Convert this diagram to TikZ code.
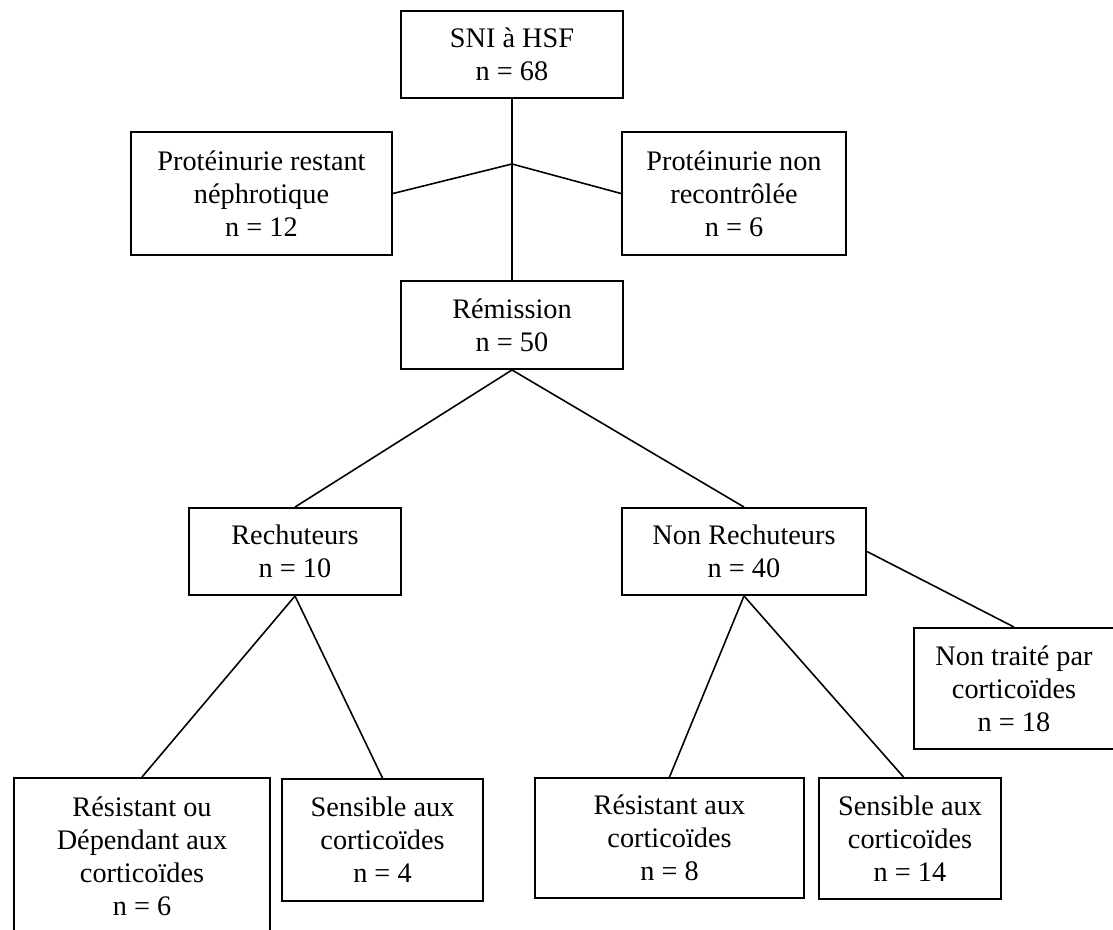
\documentclass[tikz,border=0pt]{standalone}
\usepackage{fontspec}
\setmainfont{Liberation Serif}

\begin{document}
\begin{tikzpicture}[x=0.02cm, y=-0.02cm,
    boite/.style={draw, line width=1.1pt, inner sep=0pt, align=center,
        font=\fontsize{16.1}{18.8}\selectfont},
    taille/.style 2 args={minimum width=#1*0.02cm, minimum height=#2*0.02cm},
    lien/.style={line width=0.9pt}]
    \useasboundingbox (0,0) rectangle (1113,930);
    \node[boite, taille={222}{87}] (sni) at (512,54.5) {SNI à HSF\\n = 68};
    \node[boite, taille={261}{123}] (protnephro) at (261.5,193.5) {Protéinurie restant\\néphrotique\\n = 12};
    \node[boite, taille={224}{123}] (protnonctrl) at (734,193.5) {Protéinurie non\\recontrôlée\\n = 6};
    \node[boite, taille={222}{88}] (remission) at (512,325) {Rémission\\n = 50};
    \node[boite, taille={212}{87}] (rechut) at (295,551.5) {Rechuteurs\\n = 10};
    \node[boite, taille={244}{87}] (nonrechut) at (744,551.5) {Non Rechuteurs\\n = 40};
    \node[boite, taille={200}{121}] (nontraite) at (1014,688.5) {Non traité par\\corticoïdes\\n = 18};
    \node[boite, taille={256}{156}] (resdep) at (142,856) {Résistant ou\\Dépendant aux\\corticoïdes\\n = 6};
    \node[boite, taille={201}{122}] (sensA) at (382.5,840) {Sensible aux\\corticoïdes\\n = 4};
    \node[boite, taille={269}{120}] (resist) at (669.5,838) {Résistant aux\\corticoïdes\\n = 8};
    \node[boite, taille={182}{121}] (sensB) at (910,838.5) {Sensible aux\\corticoïdes\\n = 14};

    % branches
    \coordinate (split) at (512,164);
    \draw[lien] (sni) -- (remission);
    \draw[lien] (split) -- (protnephro.east);
    \draw[lien] (split) -- (protnonctrl.west);
    \draw[lien] (remission.south) -- (rechut.north);
    \draw[lien] (remission.south) -- (nonrechut.north);
    \draw[lien] (rechut.south) -- (resdep.north);
    \draw[lien] (rechut.south) -- (sensA.north);
    \draw[lien] (nonrechut.south) -- (resist.north);
    \draw[lien] (nonrechut.south) -- (sensB.96);
    \draw[lien] (nonrechut.east) -- (nontraite.north);
\end{tikzpicture}
\end{document}
